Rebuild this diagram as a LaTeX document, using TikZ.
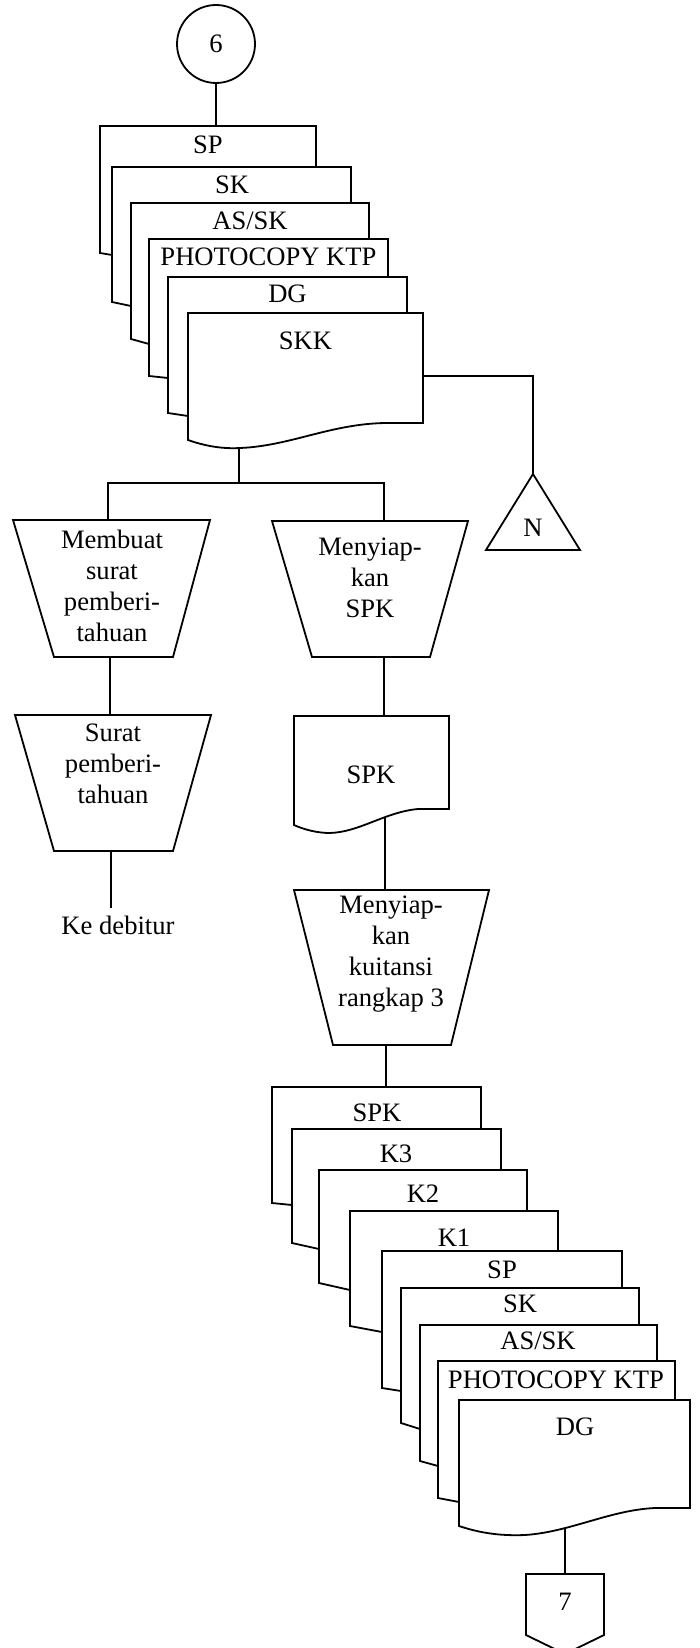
\documentclass[tikz,border=0pt]{standalone}
\usepackage{fontspec}
\setmainfont{Liberation Serif}
\begin{document}
\begin{tikzpicture}[x=1pt,y=-1pt,
  pg/.style={draw=black, line width=1.8pt, fill=white, line join=miter},
  link/.style={draw=black, line width=1.5pt},
  lbl/.style={font=\fontsize{26.6pt}{31pt}\selectfont, inner sep=0pt, align=center},
]
\useasboundingbox (0,0) rectangle (700,1648);

% connector start
\node[lbl, circle, draw=black, line width=1.8pt, minimum size=78pt] (c6) at (216,44) {6};

% connection points
\coordinate (sp1-top) at (216,126);
\coordinate (skk-b) at (239,440);
\coordinate (br) at (239,483);
\coordinate (t1-top) at (108,520);
\coordinate (t3-top) at (384,520);
\coordinate (t1-bot) at (110,657);
\coordinate (t2-top) at (110,715);
\coordinate (t2-bot) at (111,851);
\coordinate (kd-in) at (111,908);
\coordinate (t3-bot) at (384,657);
\coordinate (spk-top) at (384,716);
\coordinate (spk-b) at (385,815);
\coordinate (t4-top) at (385,890);
\coordinate (t4-bot) at (386,1045);
\coordinate (spk2-top) at (386,1087);
\coordinate (dg2-b) at (565,1520);
\coordinate (p7-top) at (565,1574);
\coordinate (skk-r) at (423,376);
\coordinate (n-apex) at (533,474);

% flow lines (drawn first, shapes cover their ends)
\draw[link] (c6) -- (sp1-top);
\draw[link] (skk-b) -- (br);
\draw[link] (t1-top) |- (br) -| (t3-top);
\draw[link] (t1-bot) -- (t2-top);
\draw[link] (t2-bot) -- (kd-in);
\draw[link] (t3-bot) -- (spk-top);
\draw[link] (spk-b) -- (t4-top);
\draw[link] (t4-bot) -- (spk2-top);
\draw[link] (dg2-b) -- (p7-top);
\draw[link] (skk-r) -| (n-apex);

% upper document stack
\draw[pg] (100,253) -- (100,126) -- (316,126) -- (316,253) -- (112,255) -- cycle;
\node[lbl] (u-sp) at (208,145) {SP};
\draw[pg] (112,302) -- (112,167) -- (351,167) -- (351,302) -- (131,306) -- cycle;
\node[lbl] (u-sk) at (232,185) {SK};
\draw[pg] (131,339) -- (131,203) -- (369,203) -- (369,339) -- (149,344) -- cycle;
\node[lbl] (u-as) at (250,221) {AS/SK};
\draw[pg] (149,376) -- (149,239) -- (388,239) -- (388,376) -- (168,378) -- cycle;
\node[lbl] (u-ktp) at (268.5,257) {PHOTOCOPY KTP};
\draw[pg] (168,413) -- (168,277) -- (407,277) -- (407,413) -- (188,416) -- cycle;
\node[lbl] (u-dg) at (287.5,294) {DG};
\draw[pg] (188,440) -- (188,313) -- (423,313) -- (423,423) -- (385,423)
  .. controls (330,424) and (290,446) .. (240,448)
  .. controls (222,449) and (205,446) .. (188,440) -- cycle;
\node[lbl] (u-skk) at (305.5,341) {SKK};

% off-page storage
\draw[pg] (533,474) -- (580,550) -- (486,550) -- cycle;
\node[lbl] (n) at (533,528) {N};

% left branch
\draw[pg] (13,520) -- (210,520) -- (173,657) -- (54,657) -- cycle;
\node[lbl] (t1) at (112,586) {Membuat\\surat\\pemberi-\\tahuan};
\draw[pg] (15,715) -- (211,715) -- (173,851) -- (54,851) -- cycle;
\node[lbl] (t2) at (113,764) {Surat\\pemberi-\\tahuan};
\node[lbl] (kd) at (118,925) {Ke debitur};

% right branch
\draw[pg] (272,521) -- (468,521) -- (430,657) -- (312,657) -- cycle;
\node[lbl] (t3) at (370,578) {Menyiap-\\kan\\SPK};
\draw[pg] (294,825) -- (294,716) -- (449,716) -- (449,809) -- (418,809)
  .. controls (385,812) and (360,832) .. (330,833)
  .. controls (318,833) and (305,830) .. (294,825) -- cycle;
\node[lbl] (spk) at (371,775) {SPK};
\draw[pg] (294,890) -- (489,890) -- (451,1045) -- (333,1045) -- cycle;
\node[lbl] (t4) at (391,954) {Menyiap-\\kan\\kuitansi\\rangkap 3};

% lower document stack
\draw[pg] (272,1203) -- (272,1087) -- (481,1087) -- (481,1203) -- (292,1205) -- cycle;
\node[lbl] (l-spk) at (377,1113) {SPK};
\draw[pg] (292,1243) -- (292,1129) -- (501,1129) -- (501,1243) -- (319,1249) -- cycle;
\node[lbl] (l-k3) at (396,1154) {K3};
\draw[pg] (319,1283) -- (319,1170) -- (527,1170) -- (527,1283) -- (350,1290) -- cycle;
\node[lbl] (l-k2) at (423,1194) {K2};
\draw[pg] (350,1326) -- (350,1211) -- (558,1211) -- (558,1326) -- (382,1332) -- cycle;
\node[lbl] (l-k1) at (454,1238) {K1};
\draw[pg] (382,1388) -- (382,1251) -- (622,1251) -- (622,1388) -- (401,1391) -- cycle;
\node[lbl] (l-sp) at (502,1270) {SP};
\draw[pg] (401,1423) -- (401,1288) -- (639,1288) -- (639,1423) -- (420,1429) -- cycle;
\node[lbl] (l-sk) at (520,1304) {SK};
\draw[pg] (420,1461) -- (420,1325) -- (657,1325) -- (657,1461) -- (438,1466) -- cycle;
\node[lbl] (l-as) at (538,1341) {AS/SK};
\draw[pg] (438,1498) -- (438,1361) -- (675,1361) -- (675,1498) -- (459,1502) -- cycle;
\node[lbl] (l-ktp) at (556,1380) {PHOTOCOPY KTP};
\draw[pg] (459,1526) -- (459,1400) -- (690,1400) -- (690,1508) -- (655,1508)
  .. controls (610,1510) and (570,1532) .. (525,1535)
  .. controls (500,1536) and (480,1533) .. (459,1526) -- cycle;
\node[lbl] (l-dg) at (575,1427) {DG};

% off-page connector
\draw[pg] (526,1574) -- (604,1574) -- (604,1635) -- (565,1654) -- (526,1635) -- cycle;
\node[lbl] (p7) at (565,1602) {7};
\end{tikzpicture}
\end{document}
